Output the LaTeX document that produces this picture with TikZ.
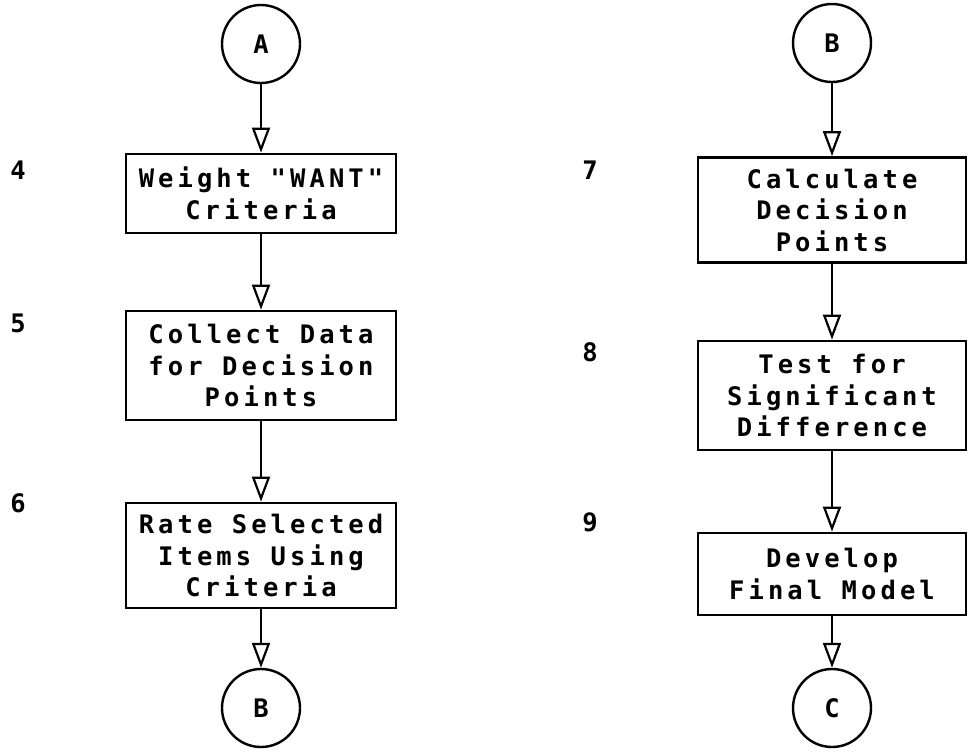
\documentclass[tikz,border=0pt]{standalone}
\usepackage{fontspec}
\newfontfamily\plotfont[LetterSpace=16]{DejaVu Sans Mono}
\usetikzlibrary{arrows.meta}
\tikzset{
  every node/.style={font=\plotfont\bfseries\fontsize{25.5}{31.5}\selectfont},
  procbox/.style={draw, line width=2.8pt, rectangle, inner sep=0pt, align=center},
  conn/.style={draw, circle, line width=2.4pt, minimum size=78pt, inner sep=0pt},
  arr/.style={line width=2.4pt, -{Triangle[open, length=25pt, width=18pt, line width=2.2pt]}},
  numlbl/.style={inner sep=0pt}
}
\begin{document}
\begin{tikzpicture}[x=1pt, y=-1pt]
\useasboundingbox (0,0) rectangle (968,752);
% left column
\node[conn] (cA) at (261,44) {A};
\node[procbox, minimum width=270pt, minimum height=79pt] (b4) at (261,193.5) {Weight "WANT"\\Criteria};
\node[procbox, minimum width=270pt, minimum height=109pt] (b5) at (261,365.5) {Collect Data\\for Decision\\Points};
\node[procbox, minimum width=270pt, minimum height=105pt] (b6) at (261,555.5) {Rate Selected\\Items Using\\Criteria};
\node[conn] (cB1) at (261,708) {B};
% right column
\node[conn] (cB2) at (832,43) {B};
\node[procbox, minimum width=268pt, minimum height=105pt] (b7) at (832,210) {Calculate\\Decision\\Points};
\node[procbox, minimum width=268pt, minimum height=109pt] (b8) at (832,395.5) {Test for\\Significant\\Difference};
\node[procbox, minimum width=268pt, minimum height=82pt] (b9) at (832,574) {Develop\\Final Model};
\node[conn] (cC) at (832,708) {C};
% step numbers
\node[numlbl] (n4) at (18,170) {4};
\node[numlbl] (n5) at (18,323) {5};
\node[numlbl] (n6) at (18,503) {6};
\node[numlbl] (n7) at (590,170) {7};
\node[numlbl] (n8) at (590,352) {8};
\node[numlbl] (n9) at (590,522) {9};
% connectors
\draw[arr] (cA) -- (b4);
\draw[arr] (b4) -- (b5);
\draw[arr] (b5) -- (b6);
\draw[arr] (b6) -- (cB1);
\draw[arr] (cB2) -- (b7);
\draw[arr] (b7) -- (b8);
\draw[arr] (b8) -- (b9);
\draw[arr] (b9) -- (cC);
\end{tikzpicture}
\end{document}
